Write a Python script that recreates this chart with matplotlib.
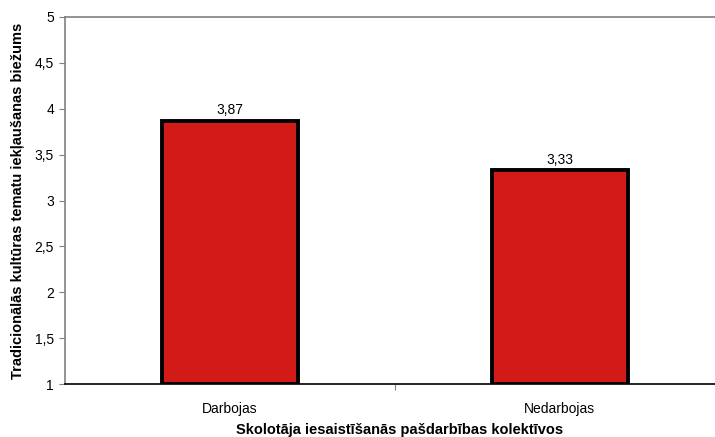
import matplotlib
matplotlib.use("Agg")
import matplotlib.pyplot as plt

categories = ["Darbojas", "Nedarbojas"]
values = [3.87, 3.33]
yticks = [1, 1.5, 2, 2.5, 3, 3.5, 4, 4.5, 5]

plt.rcParams["font.family"] = ["Liberation Sans", "DejaVu Sans"]

fig = plt.figure(figsize=(7.15, 4.37), dpi=100)
ax = fig.add_axes([65 / 715, 53 / 437, 650 / 715, 367 / 437])

x = list(range(len(categories)))
bars = ax.bar(x, [v - 1 for v in values], bottom=1, width=0.41,
              color="#d21a17", edgecolor="black", linewidth=2.8, zorder=3)
for xi, v in zip(x, values):
    ax.text(xi, v + 0.04, f"{v:.2f}".replace(".", ","), ha="center", va="bottom",
            fontsize=10)

ax.set_xlim(-0.5, 1.47)
ax.set_ylim(1, 5)
ax.set_yticks(yticks)
ax.set_yticklabels([f"{t:g}".replace(".", ",") for t in yticks], fontsize=10)
# single tick between the two categories, category names without ticks
ax.set_xticks([0.5])
ax.set_xticklabels([""])
ax.set_xticks(x, minor=True)
ax.set_xticklabels(categories, minor=True, fontsize=10)
ax.tick_params(axis="x", which="minor", length=0, pad=13)
ax.tick_params(axis="x", which="major", length=4, color="#808080", direction="out")
ax.tick_params(axis="y", length=4, color="#808080", pad=4)

for s in ("left", "top"):
    ax.spines[s].set_color("#808080")
    ax.spines[s].set_linewidth(1.2)
ax.spines["right"].set_visible(False)
ax.spines["bottom"].set_color("black")
ax.spines["bottom"].set_linewidth(1.2)

fig.text(400 / 715, 1 - 430 / 437, "Skolotāja iesaistīšanās pašdarbības kolektīvos",
         fontsize=10.5, fontweight="bold", ha="center", va="center")
ax.set_ylabel("Tradicionālās kultūras tematu iekļaušanas biežums", fontsize=10.5,
              fontweight="bold")
ax.yaxis.set_label_coords(-0.062, 0.5)

fig.savefig("out.png", dpi=100)
